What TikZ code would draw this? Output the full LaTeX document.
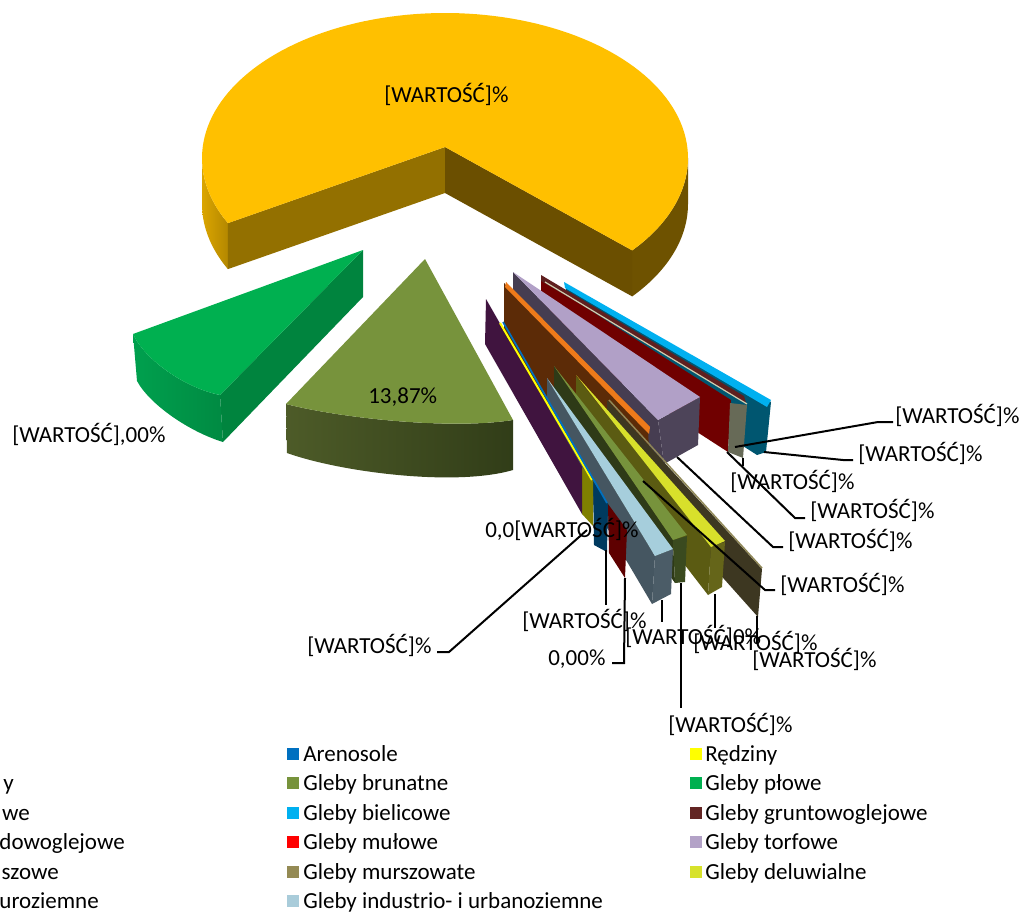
\documentclass[tikz,border=0pt]{standalone}
\usepackage{fontspec}
\setmainfont{Carlito}
\definecolor{ytop}{HTML}{FFC000}
\definecolor{ylcut}{HTML}{937000}
\definecolor{yrcut}{HTML}{6B4F00}
\definecolor{yrimA}{HTML}{DBA500}
\definecolor{yrimB}{HTML}{B48800}
\definecolor{yrimR}{HTML}{6E5200}
\definecolor{gtop}{HTML}{00B050}
\definecolor{gcut}{HTML}{00843E}
\definecolor{grimA}{HTML}{00A04E}
\definecolor{grimB}{HTML}{008A42}
\definecolor{otop}{HTML}{77933C}
\definecolor{osideA}{HTML}{4D5B28}
\definecolor{osideB}{HTML}{313D18}
\definecolor{bltop}{HTML}{00B0F0}
\definecolor{blcut}{HTML}{005670}
\definecolor{marstrip}{HTML}{5F1F1F}
\definecolor{beige}{HTML}{D0CDB0}
\definecolor{grayend}{HTML}{676A57}
\definecolor{redface}{HTML}{700000}
\definecolor{lavtop}{HTML}{B1A0C7}
\definecolor{lavcut}{HTML}{463D51}
\definecolor{lavend}{HTML}{4D4459}
\definecolor{orstrip}{HTML}{EE7A1A}
\definecolor{brface}{HTML}{5C2B07}
\definecolor{boface}{HTML}{3D3721}
\definecolor{botop}{HTML}{8F8757}
\definecolor{olface}{HTML}{5B5B12}
\definecolor{olend}{HTML}{656519}
\definecolor{yelstrip}{HTML}{D8E02B}
\definecolor{dgface}{HTML}{2E3A17}
\definecolor{dgend}{HTML}{3A4A1F}
\definecolor{dgstrip}{HTML}{77933C}
\definecolor{slface}{HTML}{455661}
\definecolor{slend}{HTML}{4B5C67}
\definecolor{lbtop}{HTML}{A6CEDC}
\definecolor{purface}{HTML}{40143F}
\definecolor{oliveend}{HTML}{7F7F00}
\definecolor{dbend}{HTML}{003A5F}
\definecolor{drend}{HTML}{5E0000}
\definecolor{cAren}{HTML}{0070C0}
\definecolor{cBrun}{HTML}{77933C}
\definecolor{cBiel}{HTML}{00B0F0}
\definecolor{cMul}{HTML}{FF0000}
\definecolor{cMursz}{HTML}{948A54}
\definecolor{cInd}{HTML}{A9CCDA}
\definecolor{cRedz}{HTML}{FFFF00}
\definecolor{cPlow}{HTML}{00B050}
\definecolor{cGrunt}{HTML}{632523}
\definecolor{cTorf}{HTML}{B3A2C7}
\definecolor{cDel}{HTML}{D7E22B}
\begin{document}
\begin{tikzpicture}[x=0.75pt,y=-0.75pt,
  font=\fontsize{17.25}{20}\selectfont,
  lbl/.style={anchor=base west, inner sep=0pt},
  lfrag/.style={anchor=base east, inner sep=0pt},
  leader/.style={draw=black, line width=1.5pt},
  mark/.style={minimum size=0pt}]
\useasboundingbox (0,0) rectangle (1027,913);
\clip (0,0) rectangle (1027,913);

% ---------- big yellow slice ----------
\fill[yrimR] plot[domain=0:39.6,samples=30] ({445+243*cos(\x)},{158+145*sin(\x)})
  -- plot[domain=39.6:0,samples=30] ({445+243*cos(\x)},{204+145*sin(\x)}) -- cycle;
\shade[left color=yrimA, right color=yrimB] plot[domain=153.3:180,samples=20] ({445+243*cos(\x)},{158+145*sin(\x)})
  -- plot[domain=180:153.3,samples=20] ({445+243*cos(\x)},{204+145*sin(\x)}) -- cycle;
\fill[ylcut] (445,147) -- (227.9,223.1) -- (227.9,269.1) -- (445,193) -- cycle;
\fill[yrcut] (445,147) -- (632.2,250.4) -- (632.2,296.4) -- (445,193) -- cycle;
\fill[ytop] (445,147) -- plot[domain=153.3:399.6,samples=120] ({445+243*cos(\x)},{158+145*sin(\x)}) -- cycle;

% ---------- thin slices, back to front ----------
% blue (bielicowe)
\fill[blcut] (566,286) -- (771,402) -- (766,452) -- (757,455) -- (566,333) -- cycle;
\fill[bltop] (564,282) -- (771,400) -- (767,407) -- (565,288) -- cycle;
% red face
\fill[redface] (541,279) -- (731,400) -- (728,452) -- (541,331) -- cycle;
\fill[marstrip] (541,275) -- (744,396) -- (746,403) -- (541,281) -- cycle;
\draw[beige, line width=0.9pt] (545,282) -- (747,404);
\fill[grayend] (730,403) -- (747,405) -- (743,458) -- (728,452) -- cycle;
% lavender (torfowe)
\fill[lavcut] (513,272) -- (658,420) -- (664,464) -- (513,318) -- cycle;
\fill[lavend] (658,420) -- (700,397) -- (698,445) -- (664,464) -- cycle;
\fill[lavtop] (513,272) -- (700,397) -- (658,420) -- cycle;
% orange slice: brown face + orange strip
\fill[brface] (504,283) -- (648,428) -- (650,475) -- (560,440) -- (504,335) -- cycle;
\fill[orstrip] (506,282) -- (650,427) -- (649,434) -- (505,287) -- cycle;
% brown-olive slice
\fill[boface] (607,400) -- (762,569) -- (758,617) -- (607,448) -- cycle;
\draw[botop, line width=1.1pt] (609,400) -- (762,568);
% olive slice
\fill[olface] (576,376) -- (711,546) -- (708,595) -- (576,424) -- cycle;
\fill[olend] (711,546) -- (725,542) -- (722,587) -- (708,595) -- cycle;
\fill[yelstrip] (576,375) -- (725,541) -- (711,547) -- cycle;
% dark green slice
\fill[dgface] (554,366) -- (673,540) -- (675,583) -- (554,414) -- cycle;
\fill[dgend] (673,540) -- (687,536) -- (685,582) -- (675,583) -- cycle;
\fill[dgstrip] (554,366) -- (687,535) -- (673,540) -- cycle;
% slate / light blue slice
\fill[slface] (547,378) -- (655,556) -- (652,604) -- (547,426) -- cycle;
\fill[slend] (655,556) -- (673,549) -- (671,594) -- (652,604) -- cycle;
\fill[lbtop] (547,378) -- (673,549) -- (655,556) -- cycle;
% front group: end faces, purple face, thin strips
\fill[drend] (608,504) -- (627,530) -- (625,578) -- (609,553) -- cycle;
\fill[dbend] (593,481) -- (608,504) -- (607,552) -- (594,545) -- cycle;
\fill[oliveend] (582,467) -- (593,481) -- (593,526) -- (582,514) -- cycle;
\fill[purface] (486,299) -- (582,467) -- (582,514) -- (485,344) -- cycle;
\draw[cRedz, line width=1.5pt] (500,323) -- (592,480);
\draw[cAren, line width=1.3pt] (503,322) -- (607,503);

% ---------- green slice (plowe) ----------
\shade[left color=grimA, right color=grimB] (133,334) .. controls (145,360) and (185,388) .. (220,395)
  -- (223,442) .. controls (190,432) and (150,405) .. (137,381) -- cycle;
\fill[gcut] (363,250) -- (220,395) -- (223,442) -- (363,297) -- cycle;
\fill[gtop] (363,250) -- (133,334) .. controls (145,360) and (185,388) .. (220,395) -- cycle;

% ---------- olive slice (brunatne) ----------
\shade[left color=osideA, right color=osideB] (286,404) .. controls (340,418) and (450,430) .. (513,420)
  -- (513,470) .. controls (455,487) and (340,472) .. (287,453) -- cycle;
\fill[otop] (425,259) -- (286,404) .. controls (340,418) and (450,430) .. (513,420) -- cycle;

% ---------- labels ----------
\node[lbl] (lyel) at (384,103) {[WARTOŚĆ]\%};
\node[lbl] (lbrun) at (368,403) {13,87\%};
\node[lbl] (lplow) at (12,442) {[WARTOŚĆ],00\%};

\node[lbl] (la) at (895,423) {[WARTOŚĆ]\%};
\node[lbl] (lb) at (858,461) {[WARTOŚĆ]\%};
\node[lbl] (lc) at (730,489) {[WARTOŚĆ]\%};
\node[lbl] (ld) at (810,518) {[WARTOŚĆ]\%};
\node[lbl] (le) at (788,548) {[WARTOŚĆ]\%};
\node[lbl] (lf) at (780,592) {[WARTOŚĆ]\%};
\node[lbl] (lg) at (625,644) {[WARTOŚĆ]0\%};
\node[lbl] (lh) at (693,650) {[WARTOŚĆ]\%};
\node[lbl] (li) at (752,667) {[WARTOŚĆ]\%};
\node[lbl] (lj) at (668,732) {[WARTOŚĆ]\%};
\node[lbl] (lk) at (522,628) {[WARTOŚĆ]\%};
\node[lbl] (ll) at (548,665) {0,00\%};
\node[lbl] (lm) at (485,537) {0,0[WARTOŚĆ]\%};
\node[lbl] (ln) at (307,653) {[WARTOŚĆ]\%};

% ---------- leader lines ----------
\coordinate (pa) at (735,447); \coordinate (ka) at (878,422); \coordinate (ea) at (893,422);
\coordinate (pb) at (764,452); \coordinate (kb) at (843,460); \coordinate (eb) at (853,460);
\coordinate (pc) at (743,458); \coordinate (ec) at (743,466);
\coordinate (pd) at (727,452); \coordinate (kd) at (795,518); \coordinate (ed) at (805,518);
\coordinate (pe) at (677,457); \coordinate (ke) at (773,547); \coordinate (ee) at (783,547);
\coordinate (pf) at (643,481); \coordinate (kf) at (765,590); \coordinate (ef) at (775,590);
\coordinate (pg) at (662,600); \coordinate (eg) at (662,622);
\coordinate (ph) at (715,594); \coordinate (eh) at (715,628);
\coordinate (pi) at (757,616); \coordinate (ei) at (757,643);
\coordinate (pj) at (681,583); \coordinate (ej) at (681,708);
\coordinate (pk) at (606,550); \coordinate (ek) at (606,605);
\coordinate (pl) at (625,578); \coordinate (kl) at (624,663); \coordinate (el) at (612,663);
\coordinate (pn) at (587,530); \coordinate (kn) at (449,652); \coordinate (en) at (437,652);
\draw[leader] (pa) -- (ka) -- (ea);
\draw[leader] (pb) -- (kb) -- (eb);
\draw[leader] (pc) -- (ec);
\draw[leader] (pd) -- (kd) -- (ed);
\draw[leader] (pe) -- (ke) -- (ee);
\draw[leader] (pf) -- (kf) -- (ef);
\draw[leader] (pg) -- (eg);
\draw[leader] (ph) -- (eh);
\draw[leader] (pi) -- (ei);
\draw[leader] (pj) -- (ej);
\draw[leader] (pk) -- (ek);
\draw[leader] (pl) -- (kl) -- (el);
\draw[leader] (pn) -- (kn) -- (en);

% ---------- legend ----------
\fill[cAren]  (287,748) rectangle (299,760);
\fill[cBrun]  (287,777) rectangle (299,789);
\fill[cBiel]  (287,807) rectangle (299,819);
\fill[cMul]   (287,836) rectangle (299,848);
\fill[cMursz] (287,866) rectangle (299,878);
\fill[cInd]   (287,895) rectangle (299,907);
\node[lbl] (g1) at (303,761) {Arenosole};
\node[lbl] (g2) at (303,790) {Gleby brunatne};
\node[lbl] (g3) at (303,820) {Gleby bielicowe};
\node[lbl] (g4) at (303,849) {Gleby mułowe};
\node[lbl] (g5) at (303,879) {Gleby murszowate};
\node[lbl] (g6) at (303,908) {Gleby industrio- i urbanoziemne};
\fill[cRedz]  (690,748) rectangle (702,760);
\fill[cPlow]  (690,777) rectangle (702,789);
\fill[cGrunt] (690,807) rectangle (702,819);
\fill[cTorf]  (690,836) rectangle (702,848);
\fill[cDel]   (690,866) rectangle (702,878);
\node[lbl] (h1) at (705,761) {Rędziny};
\node[lbl] (h2) at (705,790) {Gleby płowe};
\node[lbl] (h3) at (705,820) {Gleby gruntowoglejowe};
\node[lbl] (h4) at (705,849) {Gleby torfowe};
\node[lbl] (h5) at (705,879) {Gleby deluwialne};
\node[lfrag] (f2) at (14,790) {y};
\node[lfrag] (f3) at (30,820) {we};
\node[lfrag] (f4) at (125,849) {dowoglejowe};
\node[lfrag] (f5) at (59,879) {szowe};
\node[lfrag] (f6) at (99,908) {uroziemne};
\end{tikzpicture}
\end{document}
